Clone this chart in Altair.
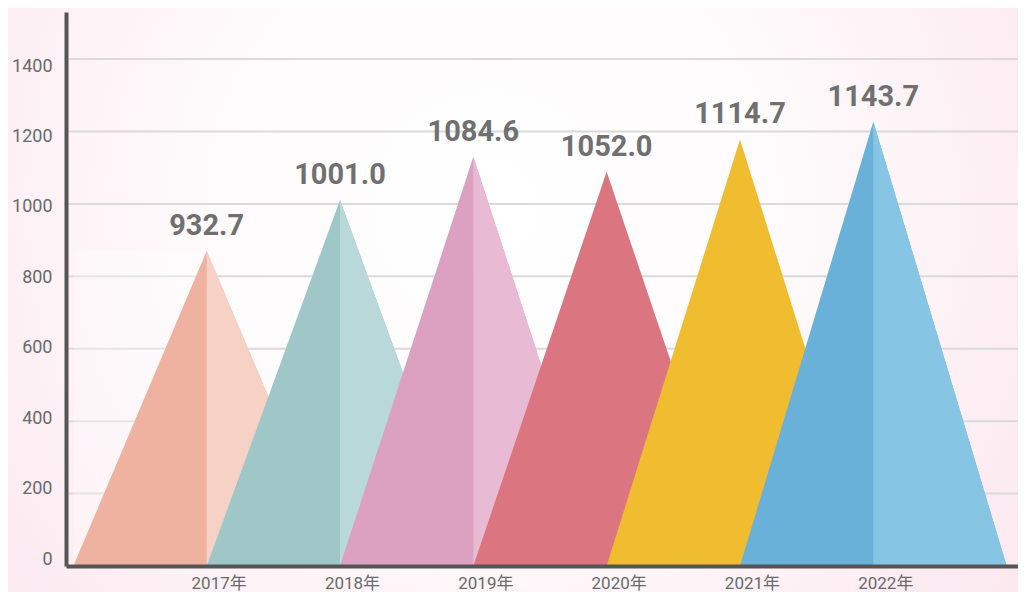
import altair as alt
import pandas as pd

# ---- data ----
years = ["2017年", "2018年", "2019年", "2020年", "2021年", "2022年"]
values = [932.7, 1001.0, 1084.6, 1052.0, 1114.7, 1143.7]          # printed labels
peaks = [870, 1011, 1130, 1089, 1178, 1227]                         # triangle tips on the y axis
left_colors = ["#EFB2A0", "#A0C7C8", "#DCA0C1", "#DB7680", "#F0BC30", "#6AB1DA"]
right_colors = ["#F6D2C6", "#B8D8DA", "#E8BAD3", "#DB7680", "#F0BC30", "#87C5E4"]
y_ticks = [0, 200, 400, 600, 800, 1000, 1200, 1400]

# ---- tables built from the arrays ----
tri_rows, half_rows = [], []
for i, p in enumerate(peaks):
    tri_rows += [
        {"key": i, "x": i - 1, "y": 0},
        {"key": i, "x": i, "y": p},
        {"key": i, "x": i + 1, "y": 0},
    ]
    half_rows += [
        {"key": i, "x": i, "y": p},
        {"key": i, "x": i + 1, "y": 0},
    ]
tri = pd.DataFrame(tri_rows)
half = pd.DataFrame(half_rows)
labels = pd.DataFrame({"x": list(range(len(years))), "y": peaks,
                       "label": [f"{v:.1f}" for v in values]})
grid = pd.DataFrame({"tick": y_ticks[1:]})
ticks_df = pd.DataFrame({"tick": y_ticks})
shadow = pd.DataFrame({"x": [-1], "x2": [0], "y": [peaks[0]], "y2": [0]})

W, H = 952, 554
PT, PB, PL = 4, 26, 58
label_expr = "[" + ",".join(f"'{y}'" for y in years) + "][round(datum.value)]"

xscale = alt.Scale(domain=[-1.055, -1.055 + W / 133.33], nice=False, zero=False)
yscale = alt.Scale(domain=[0, 1530], nice=False)
# the tick labels in the picture sit on a slightly tighter spacing than the grid
ylabel_scale = alt.Scale(domain=[-19.0, 1553.3], nice=False, zero=False)

x_enc = alt.X("x:Q", scale=xscale, axis=alt.Axis(
    values=list(range(len(years))), labelExpr=label_expr, title=None,
    grid=False, ticks=False, domainColor="#555555", domainWidth=4,
    labelFont="Roboto, Noto Sans CJK SC", labelFontSize=17, labelColor="#6a6a6a",
    labelPadding=9, labelOffset=12, zindex=1))
y_enc = alt.Y("y:Q", scale=yscale, stack=None, axis=alt.Axis(
    values=y_ticks, title=None, grid=False, ticks=False, labels=False,
    domainColor="#555555", domainWidth=4, zindex=1))

bg = alt.Chart(pd.DataFrame({"a": [0]})).mark_rect(
    fill={"gradient": "radial", "x1": 0.48, "y1": 0.41, "r1": 0,
          "x2": 0.48, "y2": 0.41, "r2": 0.78,
          "stops": [{"offset": 0, "color": "#ffffff"},
                    {"offset": 0.35, "color": "#fefbfc"},
                    {"offset": 1, "color": "#fbe1eb"}]}
).encode(x=alt.value(-PL), x2=alt.value(W), y=alt.value(-PT), y2=alt.value(H + PB))

gridlines = alt.Chart(grid).mark_rule(color="#dadada", strokeWidth=2).encode(
    y=alt.Y("tick:Q", scale=yscale), x=alt.value(2), x2=alt.value(W))

shadow_rect = alt.Chart(shadow).mark_rect(color="#ffffff", opacity=0.3).encode(
    x=alt.X("x:Q", scale=xscale), x2="x2:Q",
    y=alt.Y("y:Q", scale=yscale), y2="y2:Q")

layers = [bg, gridlines, shadow_rect]
for i in range(len(peaks)):
    layers.append(
        alt.Chart(tri).transform_filter(alt.datum.key == i)
        .mark_area(color=left_colors[i], opacity=1).encode(x=x_enc, y=y_enc)
    )
    if right_colors[i] != left_colors[i]:
        layers.append(
            alt.Chart(half).transform_filter(alt.datum.key == i)
            .mark_area(color=right_colors[i], opacity=1).encode(x=x_enc, y=y_enc)
        )

text = alt.Chart(labels).mark_text(
    dy=-25, font="Roboto", fontSize=29, fontWeight="bold", color="#707070",
    baseline="middle", align="center").encode(
    x=alt.X("x:Q", scale=xscale), y=alt.Y("y:Q", scale=yscale), text="label:N")
layers.append(text)

main = alt.layer(*layers)

ylabels = alt.Chart(ticks_df).mark_point(opacity=0).encode(
    x=alt.value(0),
    y=alt.Y("tick:Q", scale=ylabel_scale, axis=alt.Axis(
        orient="left", values=y_ticks, format="d", title=None, grid=False,
        ticks=False, domain=False, labelFont="Roboto", labelFontSize=18,
        labelColor="#6a6a6a", labelPadding=14, zindex=1)))

chart = alt.layer(main, ylabels).resolve_scale(y="independent").properties(
    width=W, height=H,
    autosize=alt.AutoSizeParams(type="none"),
    padding={"left": PL, "top": PT, "right": 0, "bottom": PB},
    background="#fcecf2",
).configure_view(stroke=None)

chart.save("out.html", embed_options={"renderer": "svg", "actions": False})
